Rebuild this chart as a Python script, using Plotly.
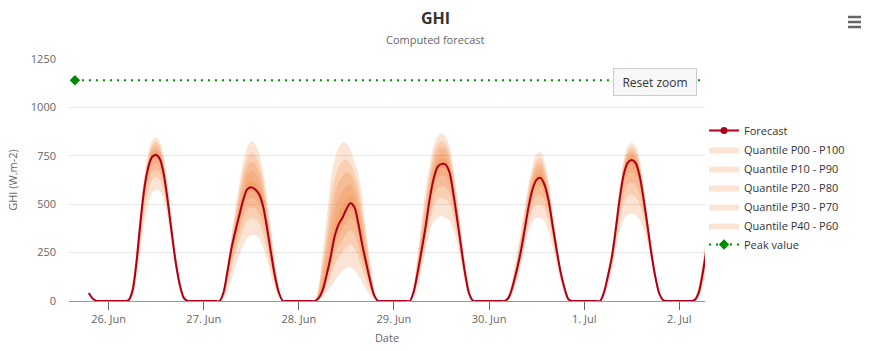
import plotly.graph_objects as go
import pandas as pd

# ---------------- data ----------------
DAYS = ["2024-06-25", "2024-06-26", "2024-06-27", "2024-06-28",
        "2024-06-29", "2024-06-30", "2024-07-01", "2024-07-02"]
FIRST_HOUR = [19, 4, 4, 4, 4, 4, 4, 3]

FORECAST = [
    [41, 12, 0],
    [0, 3, 50, 195, 400, 580, 690, 745, 754, 730, 645, 502, 340, 190, 80, 15, 0],
    [0, 45, 155, 272, 362, 445, 525, 578, 588, 576, 550, 487, 375, 245, 125, 40, 0],
    [0, 15, 55, 134, 225, 330, 395, 430, 475, 505, 485, 400, 290, 195, 105, 30, 0],
    [0, 50, 150, 265, 385, 525, 630, 693, 708, 705, 665, 553, 415, 270, 135, 35, 0],
    [0, 20, 80, 160, 255, 370, 490, 580, 627, 636, 600, 520, 395, 270, 155, 70, 10],
    [0, 45, 130, 229, 375, 535, 655, 715, 728, 712, 645, 525, 385, 240, 120, 35, 3],
    [0, 8, 50, 155, 285, 430],
]
P00 = [
    [0, 0, 0],
    [0, 0, 20, 110, 250, 400, 500, 560, 575, 565, 510, 410, 280, 150, 55, 8, 0],
    [0, 10, 50, 110, 180, 240, 290, 325, 340, 340, 320, 275, 210, 130, 60, 15, 0],
    [0, 5, 20, 45, 75, 100, 130, 155, 170, 175, 160, 130, 95, 60, 30, 8, 0],
    [0, 15, 70, 160, 260, 350, 410, 430, 440, 430, 415, 370, 290, 190, 90, 20, 0],
    [0, 5, 40, 100, 180, 270, 360, 410, 430, 430, 410, 360, 280, 190, 100, 40, 0],
    [0, 20, 80, 160, 260, 360, 420, 445, 450, 445, 420, 370, 290, 190, 90, 25, 0],
    [0, 0, 18, 80, 165, 275],
]
P10 = [
    [0, 0, 0],
    [0, 1, 30, 140, 302, 463, 567, 625, 638, 623, 557, 442, 301, 164, 64, 10, 0],
    [0, 22, 87, 167, 244, 312, 372, 414, 427, 423, 402, 349, 258, 165, 86, 29, 0],
    [0, 9, 32, 76, 128, 181, 223, 251, 277, 290, 274, 224, 163, 107, 56, 16, 0],
    [0, 27, 98, 197, 304, 411, 487, 522, 534, 526, 503, 434, 334, 218, 106, 25, 0],
    [0, 10, 54, 121, 206, 305, 406, 470, 499, 502, 477, 416, 320, 218, 119, 51, 4],
    [0, 29, 98, 184, 300, 421, 502, 540, 547, 538, 499, 424, 323, 208, 101, 29, 1],
    [0, 3, 32, 105, 205, 325],
]
P20 = [
    [0, 0, 0],
    [0, 2, 37, 159, 337, 504, 610, 667, 679, 661, 588, 463, 315, 173, 70, 12, 0],
    [0, 30, 111, 204, 286, 359, 426, 472, 484, 477, 455, 398, 296, 192, 101, 35, 0],
    [0, 11, 40, 97, 162, 233, 284, 315, 347, 366, 349, 287, 208, 138, 74, 21, 0],
    [0, 35, 116, 221, 333, 452, 538, 583, 595, 590, 560, 476, 363, 236, 116, 29, 0],
    [0, 14, 63, 135, 224, 328, 435, 509, 544, 549, 520, 453, 347, 236, 132, 57, 6],
    [0, 35, 109, 200, 327, 462, 556, 602, 611, 600, 551, 460, 345, 219, 107, 31, 2],
    [0, 5, 38, 125, 238, 365],
]
P30 = [
    [0, 0, 0],
    [0, 2, 43, 176, 367, 540, 648, 704, 715, 694, 615, 482, 327, 181, 74, 13, 0],
    [0, 37, 132, 236, 322, 400, 473, 522, 533, 524, 501, 440, 329, 215, 114, 40, 0],
    [0, 13, 47, 114, 192, 279, 337, 370, 408, 432, 414, 341, 247, 165, 89, 25, 0],
    [0, 42, 132, 242, 358, 487, 582, 635, 649, 645, 610, 513, 388, 252, 125, 32, 0],
    [0, 17, 71, 147, 239, 348, 461, 543, 584, 591, 558, 485, 370, 252, 143, 63, 8],
    [0, 40, 119, 214, 350, 497, 603, 656, 667, 653, 596, 491, 364, 229, 113, 33, 2],
    [0, 7, 44, 138, 260, 395],
]
P40 = [
    [0, 0, 0],
    [0, 3, 48, 188, 388, 566, 675, 730, 740, 717, 634, 495, 335, 187, 78, 14, 0],
    [0, 42, 147, 259, 347, 429, 506, 558, 568, 557, 534, 470, 352, 231, 123, 43, 0],
    [0, 14, 52, 127, 213, 312, 374, 408, 451, 479, 459, 378, 274, 184, 99, 28, 0],
    [0, 47, 144, 257, 375, 511, 612, 672, 687, 683, 645, 538, 405, 264, 131, 34, 0],
    [0, 19, 77, 155, 249, 362, 480, 566, 611, 620, 585, 507, 386, 264, 151, 68, 9],
    [0, 43, 126, 223, 366, 521, 636, 693, 706, 691, 627, 513, 377, 236, 118, 34, 3],
    [0, 8, 48, 148, 275, 418],
]
P60 = [
    [0, 0, 0],
    [0, 5, 57, 206, 412, 590, 701, 758, 768, 743, 658, 515, 350, 198, 85, 17, 0],
    [0, 49, 162, 282, 380, 470, 554, 611, 624, 611, 582, 514, 388, 259, 139, 49, 0],
    [0, 25, 84, 177, 284, 390, 454, 489, 526, 546, 520, 439, 326, 220, 119, 35, 0],
    [0, 56, 165, 288, 414, 551, 656, 717, 732, 727, 685, 574, 432, 284, 145, 40, 0],
    [0, 23, 88, 172, 271, 388, 508, 598, 647, 656, 618, 535, 406, 278, 159, 72, 11],
    [0, 49, 135, 237, 385, 545, 666, 728, 742, 725, 658, 536, 394, 248, 125, 37, 3],
    [0, 10, 57, 167, 300, 446],
]
P70 = [
    [0, 0, 0],
    [0, 7, 66, 221, 428, 605, 716, 775, 786, 761, 677, 533, 365, 209, 92, 20, 0],
    [0, 54, 171, 296, 403, 503, 593, 654, 671, 658, 624, 551, 421, 289, 154, 54, 0],
    [0, 38, 123, 234, 363, 470, 533, 567, 594, 601, 567, 491, 374, 253, 138, 41, 0],
    [0, 64, 185, 319, 453, 586, 690, 748, 763, 756, 712, 601, 455, 302, 158, 47, 0],
    [0, 27, 98, 188, 292, 412, 532, 622, 674, 683, 642, 555, 421, 288, 164, 75, 12],
    [0, 54, 142, 247, 398, 558, 681, 745, 760, 743, 675, 551, 406, 258, 132, 40, 4],
    [0, 12, 65, 180, 318, 465],
]
P80 = [
    [0, 0, 0],
    [0, 10, 75, 236, 444, 618, 731, 792, 804, 780, 695, 550, 378, 220, 99, 23, 0],
    [0, 59, 180, 309, 427, 536, 632, 697, 718, 705, 666, 588, 450, 314, 169, 59, 0],
    [0, 51, 162, 291, 442, 550, 612, 645, 662, 656, 614, 543, 422, 286, 157, 47, 0],
    [0, 72, 205, 350, 492, 621, 724, 779, 794, 785, 739, 628, 478, 320, 171, 54, 0],
    [0, 31, 108, 204, 313, 436, 556, 646, 700, 710, 666, 575, 436, 298, 169, 78, 13],
    [0, 59, 149, 257, 411, 571, 696, 762, 778, 760, 692, 566, 418, 268, 139, 43, 4],
    [0, 14, 73, 194, 336, 485],
]
P90 = [
    [0, 0, 0],
    [0, 12, 84, 251, 460, 632, 746, 809, 822, 797, 712, 568, 392, 231, 106, 26, 0],
    [0, 64, 189, 323, 451, 569, 671, 741, 766, 752, 708, 624, 481, 334, 184, 64, 0],
    [0, 64, 201, 349, 521, 630, 691, 723, 730, 711, 661, 595, 470, 319, 176, 53, 0],
    [0, 80, 225, 381, 531, 656, 758, 811, 826, 814, 766, 656, 501, 338, 184, 61, 0],
    [0, 35, 118, 220, 334, 460, 580, 670, 727, 737, 690, 595, 451, 308, 174, 81, 14],
    [0, 64, 156, 267, 424, 584, 711, 779, 796, 778, 709, 581, 430, 278, 146, 46, 5],
    [0, 16, 82, 208, 355, 505],
]
P100 = [
    [0, 0, 0],
    [0, 15, 95, 270, 480, 650, 765, 830, 845, 820, 735, 590, 410, 245, 115, 30, 0],
    [0, 70, 200, 340, 480, 610, 720, 795, 825, 810, 760, 670, 530, 370, 200, 70, 0],
    [0, 80, 250, 420, 620, 730, 790, 820, 815, 780, 720, 660, 530, 360, 200, 60, 0],
    [0, 90, 250, 420, 580, 700, 800, 850, 865, 850, 800, 690, 530, 360, 200, 70, 0],
    [0, 40, 130, 240, 360, 490, 610, 700, 760, 770, 720, 620, 470, 320, 180, 85, 15],
    [0, 70, 165, 280, 440, 600, 730, 800, 818, 800, 730, 600, 445, 290, 155, 50, 5],
    [0, 18, 90, 222, 372, 525],
]

BAND_NAMES = ["Quantile P00 - P100", "Quantile P10 - P90", "Quantile P20 - P80",
              "Quantile P30 - P70", "Quantile P40 - P60"]

PEAK_VALUE = 1140
PEAK_X = ["2024-06-25 15:30", "2024-07-02 12:00"]

SERIES_START = "2024-06-25 19:00"
SERIES_END = "2024-07-02 08:00"
X_RANGE = ["2024-06-25 14:00", "2024-07-02 06:29"]

# ---------------- build hourly series ----------------
IDX = pd.date_range(SERIES_START, SERIES_END, freq="h")


def build(rows):
    vals = {}
    for d, h0, row in zip(DAYS, FIRST_HOUR, rows):
        base = pd.Timestamp(d)
        for i, v in enumerate(row):
            vals[base + pd.Timedelta(hours=h0 + i)] = v
    return [vals.get(t, 0) for t in IDX]


FC_COLOR = "#ac001a"
BAND_FILL = "rgba(240,120,40,0.2)"
PEAK_COLOR = "#008a00"
SM = 0.8

fig = go.Figure()

# legend entry for Forecast (line + circle marker)
fig.add_trace(go.Scatter(x=[None], y=[None], mode="lines+markers", name="Forecast",
                         line=dict(color=FC_COLOR, width=2),
                         marker=dict(symbol="circle", size=7, color=FC_COLOR)))

pairs = [(P00, P100), (P10, P90), (P20, P80), (P30, P70), (P40, P60)]
for name, (lo, hi) in zip(BAND_NAMES, pairs):
    fig.add_trace(go.Scatter(x=IDX, y=build(lo), mode="lines",
                             line=dict(width=0, shape="spline", smoothing=SM),
                             showlegend=False, hoverinfo="skip"))
    fig.add_trace(go.Scatter(x=IDX, y=build(hi), mode="lines", name=name,
                             line=dict(width=0, shape="spline", smoothing=SM),
                             fill="tonexty", fillcolor=BAND_FILL))

fig.add_trace(go.Scatter(x=IDX, y=build(FORECAST), mode="lines", name="Forecast",
                         line=dict(color=FC_COLOR, width=2, shape="spline", smoothing=SM),
                         showlegend=False))

# peak value line
fig.add_trace(go.Scatter(x=PEAK_X, y=[PEAK_VALUE, PEAK_VALUE], mode="lines",
                         line=dict(color=PEAK_COLOR, width=2, dash="2px,5px"),
                         showlegend=False))
fig.add_trace(go.Scatter(x=PEAK_X[:1], y=[PEAK_VALUE], mode="markers",
                         marker=dict(symbol="diamond", size=8, color=PEAK_COLOR),
                         showlegend=False))
fig.add_trace(go.Scatter(x=[None], y=[None], mode="lines+markers", name="Peak value",
                         line=dict(color=PEAK_COLOR, width=2, dash="2px,5px"),
                         marker=dict(symbol="diamond", size=8, color=PEAK_COLOR)))

L, R, T, B = 69, 168, 59, 50
W, H = 873, 351
PW, PH = W - L - R, H - T - B


def px(xp):
    return (xp - L) / PW


def py(yp):
    return (H - B - yp) / PH


FONT = "Open Sans"

fig.update_layout(
    width=W, height=H,
    margin=dict(l=L, r=R, t=T, b=B, autoexpand=False),
    paper_bgcolor="white", plot_bgcolor="white",
    font=dict(family=FONT, size=11, color="#666666"),
    showlegend=True,
    legend=dict(x=px(704), y=py(116), xanchor="left", yanchor="top",
                traceorder="normal",
                font=dict(family=FONT, size=11, color="#333333"),
                bgcolor="rgba(0,0,0,0)", tracegroupgap=0),
    xaxis=dict(type="date", range=X_RANGE, tickformat="%-d. %b",
               tick0="2024-06-26", dtick=86400000,
               showgrid=False, showline=True, linecolor="#999999", linewidth=1,
               ticks="outside", ticklen=8, tickcolor="#666666",
               tickfont=dict(size=11, color="#666666"),
               title=dict(text="Date", font=dict(size=11, color="#666666"), standoff=9),
               zeroline=False),
    yaxis=dict(range=[0, 1250], dtick=250, tick0=0, tickformat="d",
               showgrid=True, gridcolor="#e6e6e6", gridwidth=1,
               zeroline=False, showline=False, ticks="",
               ticklabelstandoff=12,
               tickfont=dict(size=11, color="#666666"),
               title=dict(text="GHI (W.m-2)", font=dict(size=11, color="#666666"), standoff=10)),
    annotations=[
        dict(text="<b>GHI</b>", x=px(435), y=py(18), xref="paper", yref="paper",
             showarrow=False, font=dict(family=FONT, size=16, color="#333333"),
             xanchor="center", yanchor="middle"),
        dict(text="Computed forecast", x=px(435), y=py(39), xref="paper", yref="paper",
             showarrow=False, font=dict(family=FONT, size=11, color="#666666"),
             xanchor="center", yanchor="middle"),
        dict(text="Reset zoom", x=px(655), y=py(82), xref="paper", yref="paper",
             showarrow=False, font=dict(family=FONT, size=12, color="#333333"),
             xanchor="center", yanchor="middle", width=80, height=24,
             bgcolor="#f7f7f7", bordercolor="#cccccc", borderwidth=1, borderpad=1),
    ],
    shapes=[
        dict(type="line", xref="paper", yref="paper", x0=px(848), x1=px(861),
             y0=py(yy), y1=py(yy), line=dict(color="#666666", width=2.5))
        for yy in (17, 22, 27)
    ],
)

fig.write_html("out.html")
